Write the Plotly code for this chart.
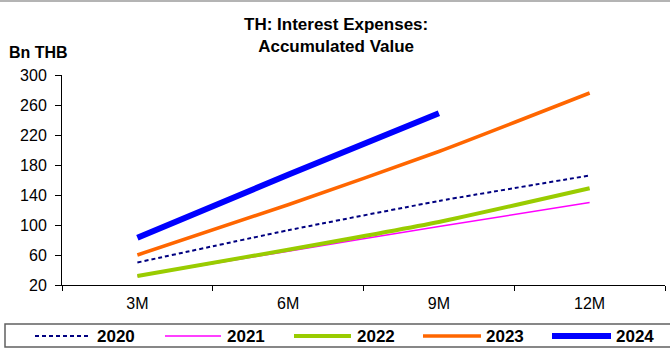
import plotly.graph_objects as go

# Accumulated interest expenses (Bn THB) by period
periods = ["3M", "6M", "9M", "12M"]
y2020 = [50, 93, 132, 166]
y2021 = [32, 65, 98, 130]
y2022 = [32, 67, 104, 149]
y2023 = [60, 127, 198, 276]
y2024 = [83, 167, 249]

W, H = 670, 356
L, R, T, B = 62, 5, 75, 71
PW, PH = W - L - R, H - T - B


def px(x):
    return (x - L) / PW


def py(y):
    return (H - B - y) / PH


series = [
    ("2020", y2020, dict(color="#000080", width=2, dash="4px,3px")),
    ("2021", y2021, dict(color="#FF00FF", width=1.5)),
    ("2022", y2022, dict(color="#99CC00", width=4)),
    ("2023", y2023, dict(color="#FF6600", width=3.5)),
    ("2024", y2024, dict(color="#0000FF", width=6)),
]

fig = go.Figure()
for name, vals, line in series:
    fig.add_trace(go.Scatter(
        x=periods[:len(vals)], y=vals, name=name, mode="lines",
        line=dict(shape="spline", smoothing=0.5, **line),
        showlegend=False, hoverinfo="x+y+name",
    ))

FONT = "Liberation Sans, Arial, sans-serif"

fig.update_layout(
    width=W, height=H,
    margin=dict(l=L, r=R, t=T, b=B),
    paper_bgcolor="white", plot_bgcolor="white",
    font=dict(family=FONT, size=16, color="black"),
    xaxis=dict(
        type="category", categoryorder="array", categoryarray=periods,
        range=[-0.5, 3.5], tickson="boundaries", ticks="outside", ticklen=5,
        tickcolor="black", showline=True, linecolor="black", linewidth=1,
        showgrid=False, zeroline=False, tickfont=dict(size=16),
        ticklabelstandoff=4,
    ),
    yaxis=dict(
        range=[20, 300], tick0=20, dtick=40, ticks="outside", ticklen=6,
        tickcolor="black", showline=True, linecolor="black", linewidth=1,
        showgrid=False, zeroline=False, tickfont=dict(size=16),
        ticklabelstandoff=5,
    ),
)

# Title and unit label
fig.add_annotation(
    text="<b>TH: Interest Expenses:<br>Accumulated Value</b>",
    xref="paper", yref="paper", x=px(336), y=py(35),
    xanchor="center", yanchor="middle", showarrow=False,
    font=dict(size=17, family=FONT),
)
fig.add_annotation(
    text="<b>Bn THB</b>", xref="paper", yref="paper", x=px(7), y=py(53),
    xanchor="left", yanchor="middle", showarrow=False,
    font=dict(size=16, family=FONT),
)

# Thin grey frame line along the top edge
fig.add_shape(type="line", xref="paper", yref="paper",
              x0=px(0), x1=px(W), y0=py(1), y1=py(1),
              line=dict(color="#b4b4b4", width=2))

# Legend box drawn below the axis
fig.add_shape(type="rect", xref="paper", yref="paper",
              x0=px(5), x1=px(W + 10), y0=py(324), y1=py(347),
              line=dict(color="#606060", width=1.5), fillcolor="white")

legend_pos = [(35, 91, 95), (165, 221, 225), (294, 351, 355),
              (423, 481, 484), (552, 611, 614)]
for (name, _, line), (s0, s1, tx) in zip(series, legend_pos):
    fig.add_shape(type="line", xref="paper", yref="paper",
                  x0=px(s0), x1=px(s1), y0=py(336), y1=py(336),
                  line=line)
    fig.add_annotation(
        text=f"<b>{name}</b>", xref="paper", yref="paper",
        x=px(tx), y=py(336), xanchor="left", yanchor="middle",
        showarrow=False, font=dict(size=17, family=FONT),
    )

fig.write_html("out.html")
